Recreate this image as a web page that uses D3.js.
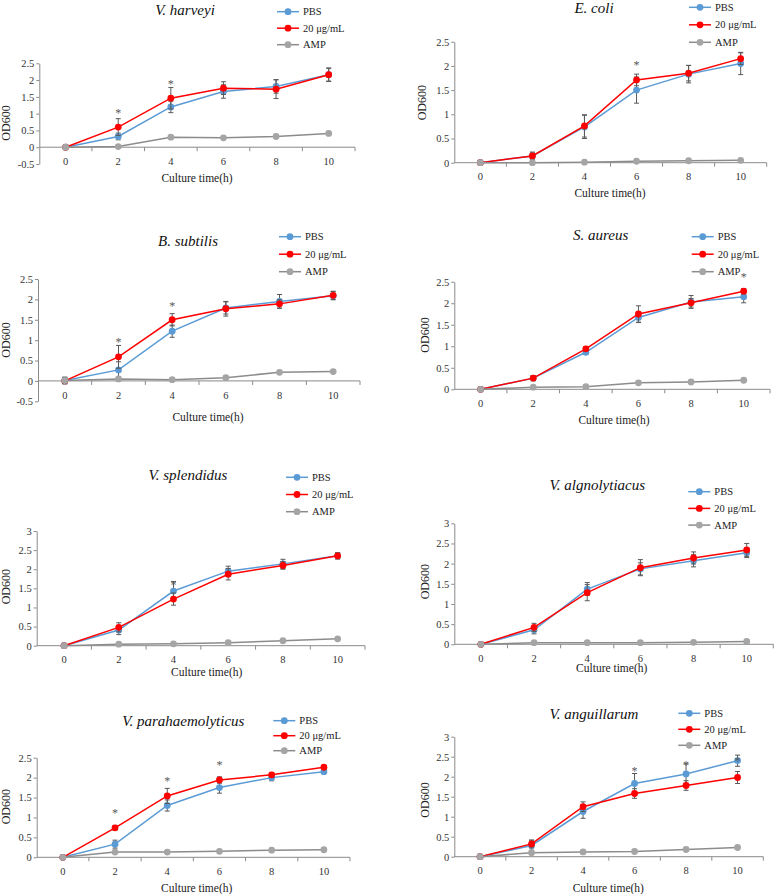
<!DOCTYPE html>
<html>
<head>
<meta charset="utf-8">
<script src="https://cdn.jsdelivr.net/npm/d3@7"></script>
<style>
body { margin: 0; background: #fff; }
svg { font-family: "Liberation Serif", "Times New Roman", serif; }
</style>
</head>
<body>
<svg id="chart" width="778" height="894"></svg>
<script>
let times = [0, 2, 4, 6, 8, 10];
let seriesNames = ["PBS", "20 μg/mL", "AMP"];
let titles = ["V. harveyi", "E. coli", "B. subtilis", "S. aureus",
    "V. splendidus", "V. algnolytiacus", "V. parahaemolyticus", "V. anguillarum"];
let yDomains = [[-0.5, 2.5], [0, 2.5], [-0.5, 2.5], [0, 2.5], [0, 3], [0, 3], [0, 2.5], [0, 3]];

// OD600 means, one row per panel
let pbs = [
    [0, 0.32, 1.20, 1.66, 1.81, 2.16],
    [0, 0.14, 0.74, 1.50, 1.83, 2.05],
    [0.01, 0.27, 1.22, 1.79, 1.95, 2.09],
    [0, 0.26, 0.86, 1.67, 2.03, 2.15],
    [0, 0.41, 1.43, 1.95, 2.14, 2.35],
    [0, 0.36, 1.37, 1.87, 2.07, 2.27],
    [0, 0.33, 1.30, 1.75, 2.00, 2.15],
    [0, 0.28, 1.13, 1.83, 2.07, 2.40]
];
let dose = [
    [0, 0.60, 1.46, 1.76, 1.73, 2.16],
    [0, 0.14, 0.76, 1.71, 1.85, 2.15],
    [0, 0.59, 1.50, 1.77, 1.89, 2.10],
    [0, 0.26, 0.94, 1.75, 2.01, 2.28],
    [0, 0.48, 1.22, 1.87, 2.10, 2.35],
    [0, 0.42, 1.28, 1.90, 2.14, 2.34],
    [0, 0.74, 1.54, 1.94, 2.07, 2.26],
    [0, 0.32, 1.25, 1.58, 1.78, 1.98]
];
let amp = [
    [0, 0.02, 0.30, 0.28, 0.32, 0.41],
    [0, 0, 0.01, 0.03, 0.04, 0.05],
    [0.01, 0.05, 0.03, 0.08, 0.21, 0.23],
    [0, 0.05, 0.06, 0.15, 0.17, 0.21],
    [0, 0.04, 0.05, 0.08, 0.13, 0.18],
    [0, 0.04, 0.04, 0.04, 0.05, 0.07],
    [0, 0.13, 0.13, 0.15, 0.18, 0.19],
    [0, 0.10, 0.12, 0.13, 0.18, 0.23]
];

// standard deviations
let pbsErr = [
    [0.01, 0.10, 0.17, 0.20, 0.20, 0.20],
    [0.01, 0.08, 0.24, 0.27, 0.18, 0.23],
    [0.08, 0.20, 0.15, 0.15, 0.17, 0.10],
    [0.01, 0.06, 0.05, 0.12, 0.15, 0.14],
    [0.01, 0.12, 0.25, 0.13, 0.12, 0.08],
    [0.01, 0.10, 0.16, 0.15, 0.15, 0.12],
    [0.01, 0.10, 0.14, 0.14, 0.08, 0.05],
    [0.01, 0.12, 0.17, 0.25, 0.25, 0.14]
];
let doseErr = [
    [0.01, 0.25, 0.32, 0.19, 0.28, 0.19],
    [0.01, 0.06, 0.23, 0.12, 0.16, 0.12],
    [0.02, 0.28, 0.15, 0.18, 0.10, 0.10],
    [0.01, 0.06, 0.05, 0.19, 0.10, 0.06],
    [0.01, 0.12, 0.16, 0.15, 0.10, 0.08],
    [0.01, 0.10, 0.20, 0.20, 0.15, 0.16],
    [0.01, 0.06, 0.19, 0.08, 0.06, 0.04],
    [0.01, 0.10, 0.12, 0.12, 0.12, 0.15]
];
let ampErr = [
    [0.01, 0.02, 0.03, 0.02, 0.03, 0.03],
    [0, 0, 0.01, 0.01, 0.01, 0.01],
    [0.08, 0.02, 0.02, 0.02, 0.02, 0.02],
    [0.01, 0.01, 0.01, 0.02, 0.02, 0.02],
    [0.01, 0.01, 0.01, 0.01, 0.01, 0.02],
    [0.01, 0.01, 0.01, 0.01, 0.01, 0.01],
    [0.01, 0.02, 0.02, 0.02, 0.02, 0.02],
    [0.01, 0.02, 0.02, 0.02, 0.02, 0.02]
];

// significance marks: [time, OD600 level]
let stars = [
    [[2, 1.11], [4, 1.97]],
    [[6, 2.07]],
    [[2, 1.03], [4, 1.91]],
    [[10, 2.68]],
    [[4, 1.65]],
    [],
    [[2, 1.17], [4, 1.98], [6, 2.37]],
    [[6, 2.21], [8, 2.35], [10, 2.45]]
];

let markColors = ["#5B9BD5", "#FF0000", "#A5A5A5"];
let lineColors = ["#5B9BD5", "#FF0000", "#8C8C8C"];
let axisColor = "#8A8A8A";
let errColor = "#595959";

// panel placement in the page
let boxes = [
    {left: 39.3, right: 355, top: 63.3, bottom: 164, title: [185, 10], legend: [277, 11.7, 16.5], xTitle: [197, 178], yTitle: [6, 123]},
    {left: 454.3, right: 766.7, top: 41.7, bottom: 162.7, title: [594, 7.3], legend: [689, 7.3, 17.5], xTitle: [610, 192.7], yTitle: [421.7, 102.7]},
    {left: 38, right: 360, top: 279, bottom: 401.3, title: [188, 240.7], legend: [279, 236.7, 17.5], xTitle: [208, 417.3], yTitle: [6, 340]},
    {left: 454.3, right: 770, top: 281.7, bottom: 389.3, title: [600.7, 235], legend: [691.7, 236.7, 17.5], xTitle: [614, 420], yTitle: [424.3, 335]},
    {left: 36.7, right: 365, top: 531, bottom: 645.7, title: [188, 474.3], legend: [286, 477.3, 17.2], xTitle: [206.7, 671.7], yTitle: [6, 586.7]},
    {left: 454.3, right: 773.3, top: 523.3, bottom: 644.3, title: [597.3, 484.3], legend: [688.3, 491.7, 16.7], xTitle: [611.7, 668.3], yTitle: [424.3, 581.7]},
    {left: 36.7, right: 350, top: 757.7, bottom: 857.3, title: [183.3, 720.7], legend: [273.3, 720.7, 15], xTitle: [196.7, 887.7], yTitle: [6, 806.7]},
    {left: 454.3, right: 763.3, top: 736.7, bottom: 856.7, title: [594, 713.3], legend: [678.3, 713.3, 16], xTitle: [608.3, 887.7], yTitle: [424.3, 800]}
];

let svg = d3.select("#chart");

for (let i = 0; i < boxes.length; i++) {
    let b = boxes[i];
    let dom = yDomains[i];
    let y = d3.scaleLinear().domain(dom).range([b.bottom, b.top]);
    let x = d3.scalePoint().domain(times).range([b.left, b.right]).padding(0.5);
    let step = x.step();
    let y0 = y(0);
    let g = svg.append("g");

    // y axis
    let yAxis = g.append("g")
        .attr("transform", "translate(" + b.left + ",0)")
        .call(d3.axisLeft(y)
            .tickValues(d3.range(dom[0], dom[1] + 0.01, 0.5))
            .tickFormat(d => String(+d.toFixed(1)))
            .tickSize(3)
            .tickSizeOuter(0)
            .tickPadding(2));
    yAxis.attr("font-family", null).attr("font-size", null);
    yAxis.selectAll("path, line").attr("stroke", axisColor);
    yAxis.selectAll("text").style("font-size", "10.5px").attr("fill", "#333");

    // x axis (category style, ticks between categories)
    g.append("line")
        .attr("x1", b.left).attr("x2", b.right)
        .attr("y1", y0).attr("y2", y0)
        .attr("stroke", axisColor);
    g.selectAll(".xtick")
        .data(d3.range(1, times.length + 1))
        .enter()
        .append("line")
        .attr("x1", k => b.left + k * step).attr("x2", k => b.left + k * step)
        .attr("y1", y0).attr("y2", y0 + 4)
        .attr("stroke", axisColor);
    g.selectAll(".xlab")
        .data(times)
        .enter()
        .append("text")
        .attr("x", d => x(d))
        .attr("y", y0 + 14)
        .attr("dy", "0.35em")
        .attr("text-anchor", "middle")
        .style("font-size", "10.5px")
        .attr("fill", "#333")
        .text(d => d);

    // axis titles
    g.append("text")
        .attr("x", b.xTitle[0]).attr("y", b.xTitle[1])
        .attr("dy", "0.35em")
        .attr("text-anchor", "middle")
        .style("font-size", "11.5px")
        .attr("fill", "#222")
        .text("Culture time(h)");
    g.append("text")
        .attr("transform", "translate(" + b.yTitle[0] + "," + b.yTitle[1] + ") rotate(-90)")
        .attr("dy", "0.35em")
        .attr("text-anchor", "middle")
        .style("font-size", "12px")
        .attr("fill", "#222")
        .text("OD600");

    // title
    g.append("text")
        .attr("x", b.title[0]).attr("y", b.title[1])
        .attr("dy", "0.35em")
        .attr("text-anchor", "middle")
        .style("font-size", "15px")
        .style("font-style", "italic")
        .attr("fill", "#111")
        .text(titles[i]);

    let series = [
        {vals: pbs[i], err: pbsErr[i]},
        {vals: dose[i], err: doseErr[i]},
        {vals: amp[i], err: ampErr[i]}
    ];

    let line = d3.line().x((d, j) => x(times[j])).y(d => y(d));

    series.forEach(function (s, si) {
        // error bars
        let eb = g.append("g").attr("stroke", errColor).attr("stroke-width", 1);
        s.vals.forEach(function (v, j) {
            if (s.err[j] < 0.02) return;
            let cx = x(times[j]);
            eb.append("line").attr("x1", cx).attr("x2", cx)
                .attr("y1", y(v - s.err[j])).attr("y2", y(v + s.err[j]));
            eb.append("line").attr("x1", cx - 2.5).attr("x2", cx + 2.5)
                .attr("y1", y(v + s.err[j])).attr("y2", y(v + s.err[j]));
            eb.append("line").attr("x1", cx - 2.5).attr("x2", cx + 2.5)
                .attr("y1", y(v - s.err[j])).attr("y2", y(v - s.err[j]));
        });

        g.append("path")
            .datum(s.vals)
            .attr("d", line)
            .attr("fill", "none")
            .attr("stroke", lineColors[si])
            .attr("stroke-width", 1.5);

        g.selectAll(".dot" + si)
            .data(s.vals)
            .enter()
            .append("circle")
            .attr("cx", (d, j) => x(times[j]))
            .attr("cy", d => y(d))
            .attr("r", 3.4)
            .attr("fill", markColors[si]);
    });

    // stars
    g.selectAll(".star")
        .data(stars[i])
        .enter()
        .append("text")
        .attr("x", d => x(d[0]))
        .attr("y", d => y(d[1]))
        .attr("dy", "0.55em")
        .attr("text-anchor", "middle")
        .style("font-size", "12px")
        .attr("fill", errColor)
        .text("*");

    // legend
    let lx = b.legend[0], ly = b.legend[1], gap = b.legend[2];
    seriesNames.forEach(function (name, si) {
        let yy = ly + si * gap;
        g.append("line")
            .attr("x1", lx).attr("x2", lx + 22)
            .attr("y1", yy).attr("y2", yy)
            .attr("stroke", lineColors[si])
            .attr("stroke-width", 1.5);
        g.append("circle")
            .attr("cx", lx + 11).attr("cy", yy)
            .attr("r", 3.4)
            .attr("fill", markColors[si]);
        g.append("text")
            .attr("x", lx + 26).attr("y", yy)
            .attr("dy", "0.35em")
            .style("font-size", "10.5px")
            .attr("fill", "#222")
            .text(name);
    });
}
</script>
</body>
</html>
